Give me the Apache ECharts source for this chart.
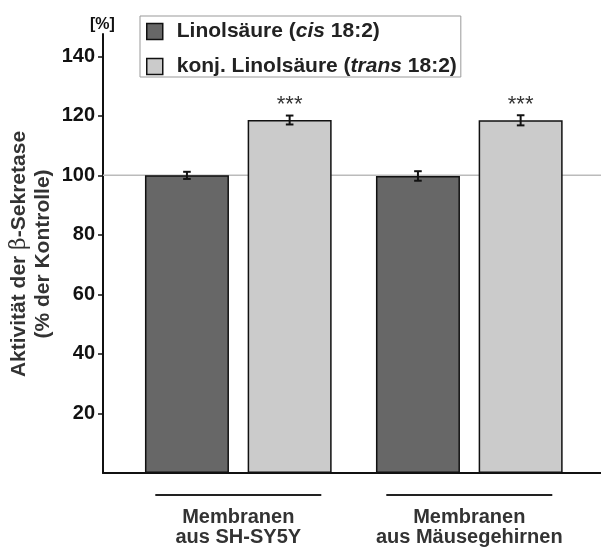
<!DOCTYPE html>
<html>
<head>
<meta charset="utf-8">
<script src="https://cdn.jsdelivr.net/npm/echarts@6/dist/echarts.min.js"></script>
<style>
html,body{margin:0;padding:0;background:#fff;}
#chart{width:601px;height:550px;}
</style>
</head>
<body>
<div id="chart"></div>
<script>
// ---- data ----
var groups = ['Membranen\naus SH-SY5Y', 'Membranen\naus Mäusegehirnen'];
var seriesNames = ['Linolsäure (cis 18:2)', 'konj. Linolsäure (trans 18:2)'];
var cisValues = [100, 99.8];
var cisErrors = [1.2, 1.6];
var transValues = [118.6, 118.5];
var transErrors = [1.5, 1.7];
var significance = ['***', '***'];
var yTicks = [20, 40, 60, 80, 100, 120, 140];
var referenceValue = 100;
var yMax = 147.5;

// ---- style constants ----
var FONT = '"Liberation Sans", Arial, sans-serif';
var barW = 84, gapPx = 18.7;
var offsets = [-(barW + gapPx) / 2, (barW + gapPx) / 2];

var errData = [];
for (var i = 0; i < groups.length; i++) {
  errData.push([i, cisValues[i], cisErrors[i], 0]);
  errData.push([i, transValues[i], transErrors[i], 1]);
}

var legendRich = {
  f: {fontFamily: FONT, fontSize: 21, fontWeight: 'bold', color: '#222', padding: [0, 0, 0, 9], lineHeight: 22},
  n: {fontFamily: FONT, fontSize: 21, fontWeight: 'bold', color: '#222', lineHeight: 22},
  i: {fontFamily: FONT, fontSize: 21, fontWeight: 'bold', fontStyle: 'italic', color: '#222', lineHeight: 22}
};
var legendFmt = {};
legendFmt[seriesNames[0]] = '{f|Linolsäure (}{i|cis}{n| 18:2)}';
legendFmt[seriesNames[1]] = '{f|konj. Linolsäure (}{i|trans}{n| 18:2)}';

var chart = echarts.init(document.getElementById('chart'), null, {renderer: 'canvas'});

var option = {
  animation: false,
  backgroundColor: '#fff',
  textStyle: {fontFamily: FONT},
  grid: [
    {left: 103, right: 0, top: 34, bottom: 77},
    {left: 122.8, width: 462, top: 34, bottom: 77}
  ],
  legend: {
    orient: 'vertical', left: 140, top: 16,
    padding: [5, 4, 0, 6],
    itemWidth: 16, itemHeight: 16, itemGap: 14,
    borderColor: '#999', borderWidth: 1, backgroundColor: '#fff',
    icon: 'rect',
    itemStyle: {borderColor: '#111', borderWidth: 1.5},
    data: seriesNames,
    formatter: function (name) { return legendFmt[name]; },
    textStyle: {rich: legendRich}
  },
  xAxis: [
    {type: 'value', gridIndex: 0, min: 0, max: 1,
     axisLine: {show: true, lineStyle: {color: '#111', width: 2}},
     axisTick: {show: false}, axisLabel: {show: false}, splitLine: {show: false}},
    {type: 'category', gridIndex: 1, data: groups,
     axisLine: {show: false}, axisTick: {show: false},
     axisLabel: {show: true, interval: 0, margin: 34, fontFamily: FONT, fontSize: 20, fontWeight: 'bold', color: '#333', lineHeight: 20}}
  ],
  yAxis: [
    {type: 'value', gridIndex: 0, min: 0, max: yMax,
     axisLine: {show: true, lineStyle: {color: '#111', width: 2}},
     axisTick: {show: true, length: 5, customValues: yTicks, lineStyle: {color: '#111', width: 1.5}},
     axisLabel: {show: true, customValues: yTicks, margin: 8, fontFamily: FONT, fontSize: 20, fontWeight: 'bold', color: '#111'},
     splitLine: {show: false}},
    {type: 'value', gridIndex: 1, min: 0, max: yMax, show: false, splitLine: {show: false}}
  ],
  series: [
    {type: 'line', xAxisIndex: 0, yAxisIndex: 0, z: 1, symbol: 'none', silent: true,
     data: [[0, referenceValue], [1, referenceValue]],
     lineStyle: {color: '#bbb', width: 1.5}},
    {name: seriesNames[0], type: 'bar', xAxisIndex: 1, yAxisIndex: 1, z: 2,
     barWidth: barW, barGap: (gapPx / barW * 100) + '%',
     data: cisValues,
     itemStyle: {color: '#676767', borderColor: '#111', borderWidth: 1.5}},
    {name: seriesNames[1], type: 'bar', xAxisIndex: 1, yAxisIndex: 1, z: 2,
     barWidth: barW, barGap: (gapPx / barW * 100) + '%',
     data: transValues,
     itemStyle: {color: '#cbcbcb', borderColor: '#111', borderWidth: 1.5},
     label: {show: true, position: 'top', distance: 4,
       formatter: function (p) { return significance[p.dataIndex]; },
       fontFamily: FONT, fontSize: 22, color: '#333', lineHeight: 22}},
    {type: 'custom', xAxisIndex: 1, yAxisIndex: 1, z: 5, silent: true,
     data: errData,
     renderItem: function (params, api) {
       var cat = api.value(0), v = api.value(1), e = api.value(2), s = api.value(3);
       var x = api.coord([cat, v])[0] + offsets[s];
       var yT = api.coord([cat, v + e])[1];
       var yB = api.coord([cat, v - e])[1];
       var cw = 3.8;
       var st = {stroke: '#111', lineWidth: 2};
       return {type: 'group', children: [
         {type: 'line', shape: {x1: x, y1: yT, x2: x, y2: yB}, style: st},
         {type: 'line', shape: {x1: x - cw, y1: yT, x2: x + cw, y2: yT}, style: st},
         {type: 'line', shape: {x1: x - cw, y1: yB, x2: x + cw, y2: yB}, style: st}
       ]};
     }}
  ],
  graphic: [
    {type: 'text', left: 90, top: 17, style: {text: '[%]', font: 'bold 16px ' + FONT, fill: '#111'}},
    {type: 'text', x: 31, y: 254, rotation: Math.PI / 2,
     style: {
       text: '{b|Aktivität der }{g|β}{b|-Sekretase}\n{b|(% der Kontrolle)}',
       align: 'center', verticalAlign: 'middle',
       rich: {
         b: {font: 'bold 21px ' + FONT, fill: '#333', lineHeight: 24, align: 'center'},
         g: {font: '22px "DejaVu Serif", serif', fill: '#333', lineHeight: 24}
       }
     }}
  ]
};
chart.setOption(option);

// group underline bars
var lines = [];
for (var k = 0; k < groups.length; k++) {
  var cx = chart.convertToPixel({xAxisIndex: 1}, groups[k]);
  lines.push({type: 'line', shape: {x1: cx - 83, y1: 495, x2: cx + 83, y2: 495}, style: {stroke: '#222', lineWidth: 2}});
}
chart.setOption({graphic: option.graphic.concat(lines)});
</script>
</body>
</html>
